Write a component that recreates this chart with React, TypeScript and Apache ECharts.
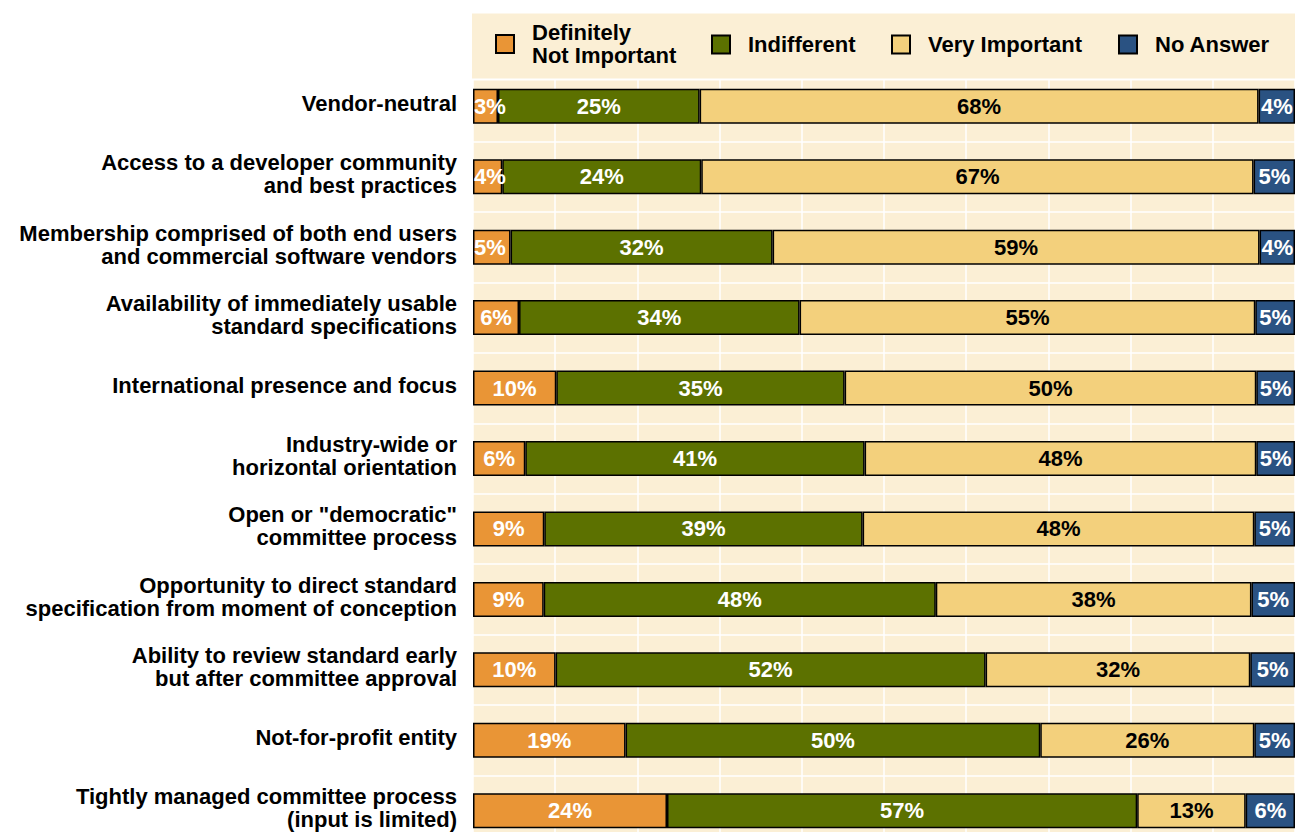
import React, { useEffect, useRef } from "react";
import * as echarts from "echarts";

const categories = [
  "Vendor-neutral",
  "Access to a developer community\nand best practices",
  "Membership comprised of both end users\nand commercial software vendors",
  "Availability of immediately usable\nstandard specifications",
  "International presence and focus",
  "Industry-wide or\nhorizontal orientation",
  'Open or "democratic"\ncommittee process',
  "Opportunity to direct standard\nspecification from moment of conception",
  "Ability to review standard early\nbut after committee approval",
  "Not-for-profit entity",
  "Tightly managed committee process\n(input is limited)",
];

const seriesNames = ["Definitely\nNot Important", "Indifferent", "Very Important", "No Answer"];

const definitelyNotImportant = [3.04, 3.56, 4.57, 5.6, 10.13, 6.36, 8.67, 8.6, 10.05, 18.56, 23.6];
const indifferent = [24.53, 24.21, 31.88, 34.13, 35.08, 41.28, 38.73, 47.7, 52.31, 50.45, 57.2];
const veryImportant = [68.0, 67.19, 59.24, 55.44, 50.08, 47.65, 47.65, 38.4, 32.2, 26.04, 13.2];
const noAnswer = [4.43, 5.04, 4.31, 4.83, 4.71, 4.71, 4.95, 5.3, 5.44, 4.95, 6.0];

const FONT = '"Liberation Sans", Arial, sans-serif';
const CREAM = "#FBEFD5";
const colors = ["#E99536", "#5C7100", "#F3D07C", "#2A5282"];
const labelColors = ["#FFFFFF", "#FFFFFF", "#000000", "#FFFFFF"];
const legendLeft = [490, 706, 886, 1113];
const legendTop = [16, 28, 28, 28];

export default function App() {
  const ref = useRef<HTMLDivElement>(null);

  useEffect(() => {
    document.body.style.margin = "0";
    if (!ref.current) return;
    const chart = echarts.init(ref.current, undefined, { renderer: "svg" });
    const dataSets = [definitelyNotImportant, indifferent, veryImportant, noAnswer];

    const option: any = {
      animation: false,
      backgroundColor: "#FFFFFF",
      grid: {
        left: 473,
        right: 9,
        top: 71,
        bottom: 0,
        show: true,
        backgroundColor: CREAM,
        borderWidth: 0,
      },
      xAxis: {
        type: "value",
        min: 0,
        max: 100,
        interval: 10,
        axisLabel: { show: false },
        axisLine: { show: false },
        axisTick: { show: false },
        splitLine: { show: true, lineStyle: { color: "#FFFFFF", width: 1.5 } },
      },
      yAxis: {
        type: "category",
        data: categories,
        inverse: true,
        axisLine: { show: false },
        axisTick: { show: false },
        splitLine: { show: true, lineStyle: { color: "#FFFFFF", width: 1.5 } },
        axisLabel: {
          margin: 16,
          align: "right",
          padding: [0, 0, 5, 0],
          formatter: (v: string) =>
            v
              .split("\n")
              .map((s) => "{t|" + s + "}")
              .join("\n"),
          rich: {
            t: {
              fontFamily: FONT,
              fontSize: 22,
              fontWeight: "bold",
              color: "#000000",
              lineHeight: 23,
              align: "right",
            },
          },
        },
      },
      legend: seriesNames.map((n, i) => ({
        data: [n],
        left: legendLeft[i],
        top: legendTop[i],
        orient: "horizontal",
        icon: "rect",
        itemWidth: 18,
        itemHeight: 18,
        z: 10,
        itemStyle: { borderColor: "#000000", borderWidth: 2 },
        textStyle: {
          fontFamily: FONT,
          fontSize: 22,
          fontWeight: "bold",
          color: "#000000",
          lineHeight: 23,
          padding: [0, 0, 0, 13],
        },
      })),
      graphic: [
        {
          type: "rect",
          z: 5,
          shape: { x: 471, y: 12.5, width: 825, height: 67 },
          style: { fill: CREAM, stroke: "#FFFFFF", lineWidth: 2 },
        },
      ],
      series: seriesNames.map((n, i) => ({
        name: n,
        type: "bar",
        stack: "total",
        barWidth: 35,
        data: dataSets[i].map((v) =>
          i === 0 && v < 5
            ? { value: v, label: { position: "insideLeft", distance: 1 } }
            : v
        ),
        itemStyle: { color: colors[i], borderColor: "#000000", borderWidth: 1.5 },
        label: {
          show: true,
          position: "inside",
          color: labelColors[i],
          fontFamily: FONT,
          fontSize: 22,
          fontWeight: "bold",
          formatter: (p: any) => Math.round(p.value) + "%",
        },
      })),
    };

    chart.setOption(option);
    return () => chart.dispose();
  }, []);

  return (
    <div style={{ width: 1304, height: 832, overflow: "hidden" }}>
      <div ref={ref} style={{ width: 1304, height: 846 }} />
    </div>
  );
}
